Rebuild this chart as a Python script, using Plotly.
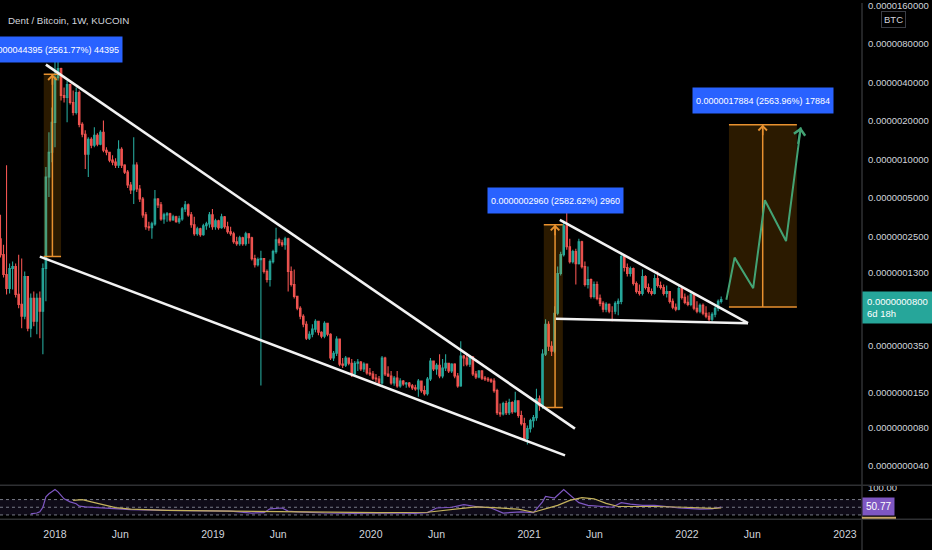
import math
from datetime import datetime, timedelta
import plotly.graph_objects as go

TICK = 1e-10  # one price tick in BTC; all price arrays below are in ticks

# ---------------- weekly candles (DENT/BTC, KuCoin) ----------------
first_week = "2017-08-28"
first_open = 2390
close = [1795, 1254, 976, 1397, 1447, 877, 733, 591, 1211, 477,
         816, 541, 816, 647, 1397, 7257, 11350, 19440, 43510, 51120,
         31520, 30410, 38380, 27800, 23240, 33260, 18750, 15680, 10950, 14330,
         12870, 15400, 13100, 16250, 11770, 11350, 9841, 9494, 8997, 11980,
         8997, 7937, 6288, 5749, 8997, 5853, 4893, 3674, 2963, 2911,
         3126, 4893, 4395, 3420, 3674, 3740, 3359, 3545, 3241, 3420,
         4091, 4395, 3674, 3071, 2614, 2859, 2567, 3016, 3126, 3674,
         2963, 3300, 2911, 3545, 2963, 2709, 2614, 2265, 2185, 2433,
         2185, 2614, 2433, 1671, 1500, 1641, 1671, 1324, 1147, 1583,
         1894, 2347, 2225, 2147, 2390, 1324, 1049, 846, 683, 591,
         512, 399, 428, 469, 541, 444, 413, 522, 428, 279,
         304, 392, 250, 245, 279, 254, 209, 254, 259, 229,
         250, 213, 209, 194, 191, 178, 279, 209, 202, 178,
         194, 169, 184, 175, 178, 169, 163, 160, 184, 155,
         147, 191, 264, 229, 245, 202, 233, 254, 221, 250,
         202, 169, 289, 279, 250, 284, 209, 198, 221, 194,
         191, 188, 184, 155, 104, 102, 123, 104, 125, 106,
         129, 99, 85.6, 65.4, 78.2, 90.3, 95.3, 134, 118, 299,
         512, 345, 316, 624, 1277, 1795, 3016, 2071, 1583, 1894,
         1527, 2265, 1447, 1049, 1147, 846, 1049, 816, 746, 671,
         733, 647, 647, 746, 774, 1732, 1422, 1277, 1397, 1068,
         925, 893, 1211, 994, 925, 893, 1168, 1030, 994, 893,
         925, 774, 695, 671, 976, 831, 760, 733, 877, 683,
         647, 720, 624, 591, 561, 613, 683, 774, 800]
high = [3674, 2147, 8997, 1527, 1583, 1527, 1795, 1671, 1324, 1211,
        893, 925, 893, 925, 1527, 8680, 16250, 25420, 60060, 69320,
        52050, 36380, 41240, 39000, 34470, 36380, 34470, 19440, 16840, 14850,
        14850, 17770, 15960, 16840, 20140, 12420, 11350, 10760, 10200, 14080,
        12420, 9159, 8226, 6635, 14850, 9494, 6288, 5072, 3877, 3241,
        3241, 5749, 4982, 4638, 3808, 3877, 3808, 3674, 3609, 3609,
        4240, 4721, 4500, 3877, 3545, 2963, 2911, 3126, 3241, 3877,
        4091, 3420, 3359, 3740, 3600, 3241, 2963, 2709, 2477, 2522,
        2477, 2709, 2640, 2477, 1795, 1701, 1927, 1671, 1372, 1641,
        1962, 2911, 2433, 2347, 2477, 2433, 1447, 1372, 846, 708,
        613, 541, 452, 512, 561, 541, 452, 541, 522, 436,
        316, 413, 392, 279, 289, 279, 274, 264, 274, 264,
        259, 250, 233, 221, 209, 202, 289, 285, 241, 221,
        202, 221, 194, 188, 181, 181, 175, 172, 191, 186,
        169, 198, 279, 264, 254, 299, 274, 299, 254, 254,
        254, 213, 378, 294, 304, 294, 289, 221, 225, 225,
        202, 198, 194, 194, 160, 123, 127, 129, 134, 128,
        152, 129, 108, 95.3, 82.6, 93.6, 100, 160, 142, 327,
        561, 541, 378, 708, 1447, 1894, 3300, 3808, 2390, 1962,
        1998, 2390, 2300, 1583, 1447, 1170, 1107, 1107, 877, 774,
        760, 746, 708, 774, 816, 1860, 1780, 1527, 1447, 1422,
        1107, 1049, 1372, 1240, 1068, 976, 1254, 1324, 1107, 1049,
        1030, 925, 816, 746, 1049, 1000, 893, 861, 925, 893,
        774, 746, 746, 708, 635, 635, 708, 801, 846]
low = [1701, 1189, 877, 893, 959, 831, 683, 477, 561, 452,
       406, 495, 428, 399, 299, 774, 5072, 9494, 12420, 41240,
       28820, 27800, 19440, 26820, 22030, 22420, 17770, 14850, 8374, 7257,
       12200, 12420, 12640, 12870, 11350, 10760, 9494, 8997, 8526, 8526,
       8526, 7657, 5959, 5351, 4474, 5547, 4638, 3482, 2809, 2758,
       2390, 3016, 4165, 3300, 3126, 3241, 3241, 3300, 3183, 3126,
       3300, 3877, 3545, 2911, 2522, 2522, 2477, 2522, 2809, 2911,
       2809, 2809, 2809, 2859, 2859, 2614, 2522, 2185, 2108, 2108,
       2108, 2108, 2185, 1612, 1422, 1447, 170, 1277, 1087, 1012,
       1527, 1827, 2108, 2071, 1962, 925, 1012, 816, 659, 561,
       486, 385, 385, 406, 444, 421, 399, 399, 413, 269,
       264, 289, 241, 233, 237, 245, 198, 202, 221, 221,
       217, 206, 202, 188, 181, 172, 172, 202, 198, 172,
       169, 163, 163, 169, 163, 163, 157, 155, 139, 149,
       142, 142, 184, 221, 206, 194, 194, 221, 213, 213,
       194, 163, 166, 241, 241, 237, 202, 191, 194, 188,
       184, 181, 178, 149, 100, 97, 99, 100, 100, 102,
       104, 95.3, 82.6, 63.1, 58.8, 72.9, 79.7, 90.3, 108, 112,
       289, 316, 289, 304, 602, 1232, 1732, 1962, 1527, 1527,
       1049, 1500, 1397, 1012, 976, 816, 816, 788, 708, 635,
       635, 624, 541, 613, 602, 733, 1324, 1211, 1211, 1030,
       893, 861, 861, 959, 893, 861, 877, 994, 959, 861,
       831, 746, 671, 647, 659, 801, 733, 708, 708, 659,
       624, 624, 602, 571, 541, 541, 581, 647, 746]

# ---------------- RSI pane (values read at candle indices) ----------------
rsi_week = [10, 12, 13, 14, 15, 16, 18, 19, 20, 21, 23, 25, 26, 28, 32, 38, 43, 55, 66, 76,
            83, 87, 89, 93, 95, 98, 107, 117, 127, 137, 141, 144, 149, 153, 157, 162, 166, 172, 176, 179,
            180, 183, 186, 189, 191, 194, 198, 202, 205, 208, 212, 216, 220, 224, 227, 231, 235, 238]
rsi_value = [33, 35, 38, 50, 77, 85, 96, 90, 81, 72, 64, 59, 53, 51, 49, 46, 44, 42, 40, 40,
             35, 36, 46, 48, 40, 38, 35, 34, 35, 34, 36, 48, 50, 57, 52, 48, 35, 38, 36, 64,
             78, 74, 96, 75, 62, 55, 53, 50, 62, 58, 55, 55, 52, 48, 47, 45, 46, 50.77]
rsi_ma_week = [24, 27, 30, 35, 38, 43, 55, 76, 87, 99, 110, 125, 141, 150, 157, 163, 171, 176, 184, 188,
               192, 196, 200, 204, 216, 226, 235, 238]
rsi_ma_value = [68, 70, 64, 55, 49, 45, 42, 40, 39, 39, 37, 36, 37, 45, 51, 49, 45, 37, 55, 68,
                75, 72, 60, 52, 52, 50, 47, 48]

# ---------------- drawings ----------------
meas_start = ["2017-12-06", "2021-02-04", "2022-04-08"]
meas_mid = ["2017-12-26", "2021-03-02", "2022-06-25"]
meas_end = ["2018-01-15", "2021-03-20", "2022-09-12"]
meas_low = [1733.0, 114.6, 697.5]
meas_diff = [44395, 2960, 17884]
meas_pct = ["2561.77", "2582.62", "2563.96"]

wedge_upper_dates = ["2017-12-11", "2021-04-17"]
wedge_upper_vals = [54920, 78.2]
wedge_lower_dates = ["2017-11-27", "2021-03-25"]
wedge_lower_vals = [1732, 48.3]
tri_upper_dates = ["2021-03-13", "2022-05-22"]
tri_upper_vals = [3359, 522]
tri_lower_dates = ["2021-03-04", "2022-05-22"]
tri_lower_vals = [566, 522]

proj_dates = ["2022-04-02", "2022-04-21", "2022-06-03", "2022-06-30", "2022-08-18", "2022-09-21"]
proj_vals = [797, 1701, 981, 4781, 2293, 17760]

price_ticks = [1.6e-5, 8e-6, 4e-6, 2e-6, 1e-6, 5e-7, 2.5e-7, 1.3e-7, 3.5e-8, 1.5e-8, 8e-9, 4e-9]
x_tick_dates = ["2018-01-01", "2018-06-01", "2019-01-01", "2019-06-01", "2020-01-01", "2020-06-01",
                "2021-01-01", "2021-06-01", "2022-01-01", "2022-06-01", "2023-01-01"]
x_tick_text = ["2018", "Jun", "2019", "Jun", "2020", "Jun", "2021", "Jun", "2022", "Jun", "2023"]

# ---------------- build ----------------
FONT = "Liberation Sans, Arial, Helvetica, sans-serif"
TXT = "#d1d4dc"
ORANGE = "#e8912f"
GREEN = "#43a374"
W, H = 932, 550
PX_R = 862       # right edge of plot area in px
PX_MAIN = 485    # bottom of price pane in px
PX_RSI = 519     # bottom of RSI pane in px

start = datetime.strptime(first_week, "%Y-%m-%d")
weeks = [start + timedelta(weeks=i) for i in range(len(close))]
opens = [first_open] + close[:-1]


def sc(vals):
    return [v * TICK for v in vals]


fig = go.Figure()

# measurement box fills
for s, e, lo, d in zip(meas_start, meas_end, meas_low, meas_diff):
    hi = lo + d
    fig.add_trace(go.Scatter(x=[s, e, e, s, s], y=sc([lo, lo, hi, hi, lo]), mode="lines",
                             fill="toself", fillcolor="rgba(255,152,0,0.17)", line=dict(width=0),
                             hoverinfo="skip", showlegend=False))

fig.add_trace(go.Candlestick(
    x=weeks, open=sc(opens), high=sc(high), low=sc(low), close=sc(close),
    increasing=dict(line=dict(color="#26a69a", width=1.1), fillcolor="#26a69a"),
    decreasing=dict(line=dict(color="#ef5350", width=1.1), fillcolor="#ef5350"),
    whiskerwidth=0, hoverinfo="skip", showlegend=False))

# measurement edges and vertical lines
for s, m, e, lo, d in zip(meas_start, meas_mid, meas_end, meas_low, meas_diff):
    hi = lo + d
    fig.add_trace(go.Scatter(x=[s, e, None, s, e, None, m, m],
                             y=sc([lo, lo]) + [None] + sc([hi, hi]) + [None] + sc([lo, hi]),
                             mode="lines", line=dict(color=ORANGE, width=1.5),
                             hoverinfo="skip", showlegend=False))

# trend lines
for xs, ys in [(wedge_upper_dates, wedge_upper_vals), (wedge_lower_dates, wedge_lower_vals),
               (tri_upper_dates, tri_upper_vals), (tri_lower_dates, tri_lower_vals)]:
    fig.add_trace(go.Scatter(x=xs, y=sc(ys), mode="lines", line=dict(color="#f2f2f2", width=2.6),
                             hoverinfo="skip", showlegend=False))

# projected path
fig.add_trace(go.Scatter(x=proj_dates, y=sc(proj_vals), mode="lines",
                         line=dict(color=GREEN, width=2), hoverinfo="skip", showlegend=False))

# RSI
fig.add_trace(go.Scatter(x=[weeks[i] for i in rsi_week], y=rsi_value, yaxis="y2", mode="lines",
                         line=dict(color="#7e57c2", width=1.2), hoverinfo="skip", showlegend=False))
fig.add_trace(go.Scatter(x=[weeks[i] for i in rsi_ma_week], y=rsi_ma_value, yaxis="y2", mode="lines",
                         line=dict(color="#c4b25c", width=1.2), hoverinfo="skip", showlegend=False))

y_main_bottom = 1 - PX_MAIN / H
y_rsi_bottom = 1 - PX_RSI / H
x_right = PX_R / W

fig.update_layout(
    width=W, height=H, margin=dict(l=0, r=0, t=0, b=0),
    paper_bgcolor="#000000", plot_bgcolor="#000000", showlegend=False, hovermode=False,
    xaxis=dict(domain=[0, x_right], anchor="y2", type="date",
               range=["2017-08-26 21:00", "2023-02-09 13:00"],
               rangeslider=dict(visible=False), showgrid=False, zeroline=False, showline=False,
               tickvals=x_tick_dates, ticktext=x_tick_text, ticks="",
               tickfont=dict(color=TXT, size=10.5, family=FONT), ticklabelstandoff=7),
    yaxis=dict(domain=[y_main_bottom, 1], anchor="x", type="log", side="right",
               range=[-8.5505, -4.7778], showgrid=False, zeroline=False, showline=False,
               tickvals=price_ticks, ticktext=[f"{v:.10f}" for v in price_ticks], ticks="",
               tickfont=dict(color=TXT, size=9.5, family=FONT), ticklabelstandoff=5,
               ticklabeloverflow="allow"),
    yaxis2=dict(domain=[y_rsi_bottom, y_main_bottom], anchor="x", side="right",
                range=[19, 107], showgrid=False, zeroline=False, showline=False,
                tickvals=[100], ticktext=["100.00"], ticks="",
                tickfont=dict(color=TXT, size=9.5, family=FONT), ticklabelstandoff=5,
                ticklabeloverflow="allow"),
)

shapes = [
    dict(type="rect", xref="x domain", yref="y2", x0=0, x1=1, y0=30, y1=70,
         fillcolor="rgba(126,87,194,0.12)", line=dict(width=0), layer="below"),
]
for lvl in (70, 50, 30):
    shapes.append(dict(type="line", xref="x domain", yref="y2", x0=0, x1=1, y0=lvl, y1=lvl,
                       line=dict(color="#787b86", width=1, dash="3px,3px"), layer="below"))
shapes += [
    dict(type="rect", xref="paper", yref="paper", x0=x_right, x1=1, y0=y_main_bottom, y1=1 - 477 / H,
         fillcolor="#000000", line=dict(width=0), layer="above"),
    dict(type="line", xref="paper", yref="paper", x0=0, x1=1, y0=y_main_bottom, y1=y_main_bottom,
         line=dict(color="#2f3033", width=1.5), layer="above"),
    dict(type="line", xref="paper", yref="paper", x0=0, x1=1, y0=y_rsi_bottom, y1=y_rsi_bottom,
         line=dict(color="#2f3033", width=1.5), layer="above"),
    dict(type="line", xref="paper", yref="paper", x0=x_right, x1=x_right, y0=0, y1=1,
         line=dict(color="#2f3033", width=1.5), layer="above"),
    dict(type="rect", xref="paper", yref="paper", x0=x_right, x1=896 / W, y0=1 - 518.5 / H, y1=1 - 516.5 / H,
         fillcolor="#c9a86a", line=dict(width=0), layer="above"),
]
fig.update_layout(shapes=shapes)

ann = []
for m, lo, d, p in zip(meas_mid, meas_low, meas_diff, meas_pct):
    hi = lo + d
    ann.append(dict(x=m, y=math.log10(hi * TICK), xref="x", yref="y", yanchor="bottom", yshift=11,
                    text=f"{d * TICK:.10f} ({p}%) {d}", showarrow=False,
                    font=dict(color="#ffffff", size=9, family=FONT),
                    bgcolor="#2962ff", borderpad=3, height=19))
    ann.append(dict(x=m, y=math.log10(hi * TICK), xref="x", yref="y", ax=0, ay=12, text="",
                    showarrow=True, arrowhead=4, arrowsize=1.1, arrowwidth=1.5, arrowcolor=ORANGE))
ann.append(dict(x=proj_dates[-1], y=math.log10(proj_vals[-1] * TICK), xref="x", yref="y", ax=-3, ay=18,
                text="", showarrow=True, arrowhead=4, arrowsize=1.1, arrowwidth=2, arrowcolor=GREEN))
ann.append(dict(x=6 / W, y=1 - 18 / H, xref="paper", yref="paper", xanchor="left", yanchor="middle",
                text="Dent / Bitcoin, 1W, KUCOIN", showarrow=False,
                font=dict(color=TXT, size=9.8, family=FONT)))
ann.append(dict(x=893 / W, y=1 - 17 / H, xref="paper", yref="paper", xanchor="center", yanchor="middle",
                text="BTC", showarrow=False, font=dict(color=TXT, size=9.5, family=FONT),
                bgcolor="#000000", bordercolor="#3a3d45", borderwidth=1, borderpad=2))
ann.append(dict(x=x_right, y=math.log10(close[-1] * TICK), xref="paper", yref="y", xanchor="left",
                yanchor="middle", yshift=-8, align="left",
                text=f"{close[-1] * TICK:.10f}<br>6d 18h", showarrow=False,
                font=dict(color="#ffffff", size=9.5, family=FONT), bgcolor="#26a69a", borderpad=4))
ann.append(dict(x=x_right, y=rsi_value[-1], xref="paper", yref="y2", xanchor="left", yanchor="middle",
                text=f"{rsi_value[-1]:.2f}", showarrow=False,
                font=dict(color="#ffffff", size=10, family=FONT), bgcolor="#7e57c2", borderpad=3))
fig.update_layout(annotations=ann)

fig.write_html("out.html", config={"displayModeBar": False},
               post_script="document.body.style.margin='0';document.body.style.background='#000';")
